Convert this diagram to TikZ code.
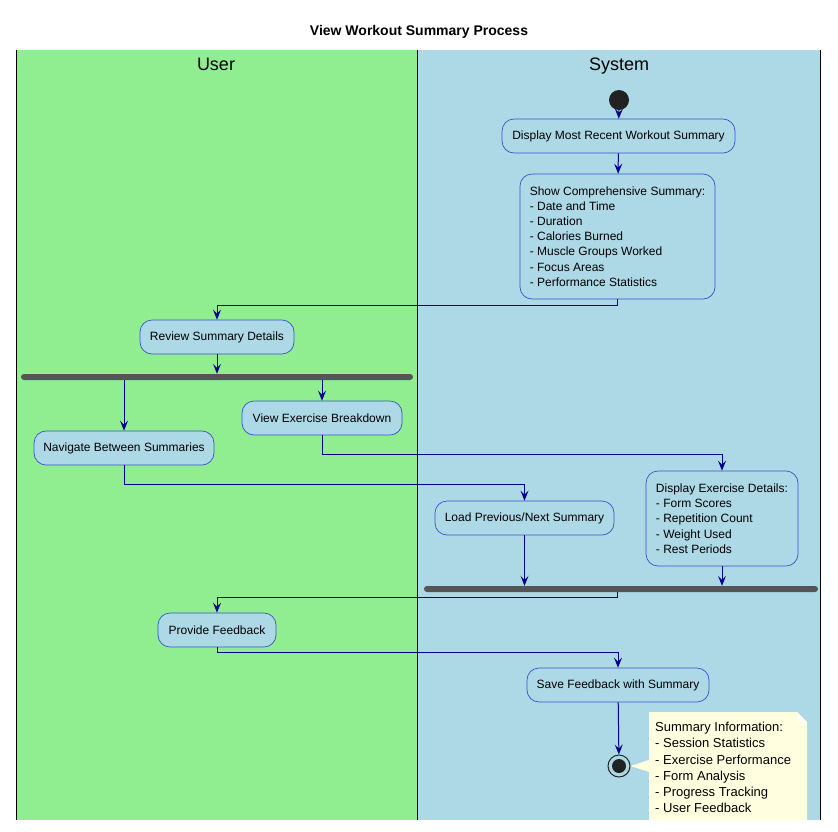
\documentclass[tikz,border=0pt]{standalone}
\usepackage{fontspec}
\setmainfont{Liberation Sans}
\usetikzlibrary{arrows.meta}
\definecolor{lanegreen}{HTML}{90EE90}
\definecolor{laneblue}{HTML}{ADD8E6}
\definecolor{boxborder}{HTML}{3355C8}
\definecolor{flowcol}{HTML}{00008B}
\definecolor{barcol}{HTML}{555555}
\definecolor{notecol}{HTML}{FFFFE0}
\definecolor{dotcol}{HTML}{222222}
\begin{document}
\begin{tikzpicture}[x=1pt,y=-1pt,
  act/.style={draw=boxborder, fill=laneblue, rounded corners=12pt, line width=0.7pt,
    font=\fontsize{12}{15.2}\selectfont, align=left, inner sep=0pt},
  flow/.style={draw=flowcol, line width=1pt, -{Stealth[length=10pt,width=8pt,inset=4pt]}},
  bar/.style={fill=barcol, rounded corners=3pt, minimum height=6pt, inner sep=0pt},
  lanehead/.style={font=\fontsize{18}{20}\selectfont, anchor=base}]
\useasboundingbox (0,0) rectangle (838,831);
% lanes
\fill[lanegreen] (16,50) rectangle (417,820);
\fill[laneblue] (417,50) rectangle (820,820);
\draw[black, line width=1pt] (16,50) -- (16,820) (417,50) -- (417,820) (820,50) -- (820,820);
% title
\node[font=\bfseries\fontsize{14}{16}\selectfont, anchor=base] (title) at (419,35) {View Workout Summary Process};
\node[lanehead] (userlane) at (216,70.5) {User};
\node[lanehead] (syslane) at (619,70.5) {System};
% start
\node[circle, fill=dotcol, minimum size=20pt, inner sep=0pt] (start) at (619,100) {};
% activities
\node[act, minimum width=233pt, minimum height=34pt] (disp) at (618.5,136) {Display Most Recent Workout Summary};
\node[act, minimum width=195pt, minimum height=125pt] (show) at (617.5,236.5) {Show Comprehensive Summary:\\- Date and Time\\- Duration\\- Calories Burned\\- Muscle Groups Worked\\- Focus Areas\\- Performance Statistics};
\node[act, minimum width=154pt, minimum height=34pt] (review) at (217,337) {Review Summary Details};
\node[bar, minimum width=392pt] (fork1) at (217,377) {};
\node[act, minimum width=180pt, minimum height=34pt] (nav) at (124,448) {Navigate Between Summaries};
\node[act, minimum width=160pt, minimum height=34pt] (view) at (322,418) {View Exercise Breakdown};
\node[act, minimum width=179pt, minimum height=34pt] (load) at (524.5,518) {Load Previous/Next Summary};
\node[act, minimum width=152pt, minimum height=95pt] (exd) at (722,518.5) {Display Exercise Details:\\- Form Scores\\- Repetition Count\\- Weight Used\\- Rest Periods};
\node[bar, minimum width=394pt] (fork2) at (621,589) {};
\node[act, minimum width=118pt, minimum height=34pt] (fb) at (217,630) {Provide Feedback};
\node[act, minimum width=182pt, minimum height=34pt] (save) at (618,685) {Save Feedback with Summary};
% end
\node[circle, draw=dotcol, line width=1pt, fill=laneblue, minimum size=22pt, inner sep=0pt] (end) at (619,766) {};
\fill[dotcol] (end.center) circle (7);
% note
\fill[notecol] (end.east) -- (649,760) -- (649,772) -- cycle;
\fill[notecol] (649,712) -- (797,712) -- (807,722) -- (807,820) -- (649,820) -- cycle;
\fill[notecol!40!white] (797,712) -- (807,722) -- (797,722) -- cycle;
\node[font=\fontsize{13}{16.2}\selectfont, align=left, anchor=west, inner sep=0pt] (note) at (655,767.5) {Summary Information:\\- Session Statistics\\- Exercise Performance\\- Form Analysis\\- Progress Tracking\\- User Feedback};
% flows
\draw[flow] (start) -- (disp);
\draw[flow] (disp) -- (show);
\draw[flow] (show.south) -- ++(0,6) -| (review.north);
\draw[flow] (review.south) -- (fork1.north);
\draw[flow] (fork1.south -| nav.north) -- (nav.north);
\draw[flow] (fork1.south -| view.north) -- (view.north);
\draw[flow] (view.south) -- ++(0,19) -| (exd.north);
\draw[flow] (nav.south) -- ++(0,19) -| (load.north);
\draw[flow] (load.south) -- (load.south |- fork2.north);
\draw[flow] (exd.south) -- (exd.south |- fork2.north);
\draw[flow] (fork2.south -| show.south) -- ++(0,5) -| (fb.north);
\draw[flow] (fb.south) -- ++(0,5) -| (save.north);
\draw[flow] (save) -- (end);
\end{tikzpicture}
\end{document}
